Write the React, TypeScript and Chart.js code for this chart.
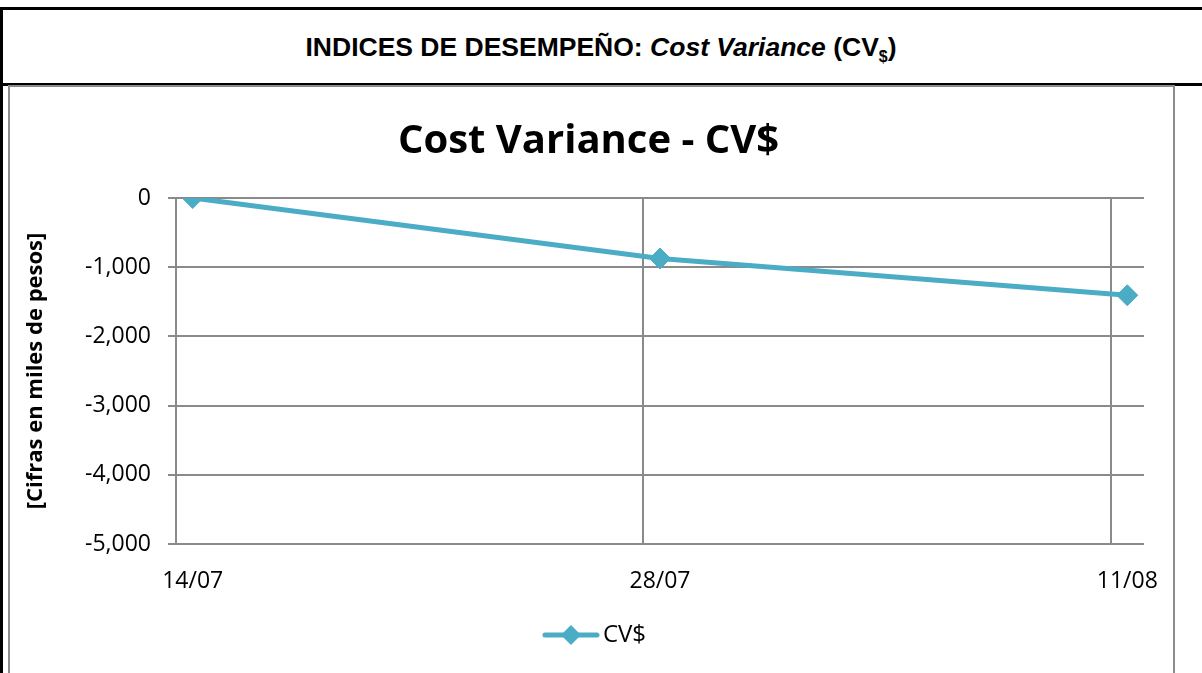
import React, { useEffect, useRef } from "react";
import { Chart, registerables } from "chart.js";

Chart.register(...registerables);

// ---- data ----
const categories = ["14/07", "28/07", "11/08"];
const dayOffsets = [0, 14, 28];
const cvValues = [0, -874, -1406];
const yTicks = [0, -1000, -2000, -3000, -4000, -5000];
const seriesName = "CV$";
const chartTitle = "Cost Variance - CV$";
const yAxisTitle = "[Cifras en miles de pesos]";

const LINE_COLOR = "#4BACC6";
const GRID_COLOR = "#8a8a8a";
const FONT = "'Open Sans', Lato, sans-serif";

function makeLegendIcon(): HTMLCanvasElement {
  // 78px wide canvas, marker drawn in its right-most 58px
  const c = document.createElement("canvas");
  c.width = 78;
  c.height = 22;
  const ctx = c.getContext("2d")!;
  const a = 20;
  ctx.strokeStyle = LINE_COLOR;
  ctx.lineWidth = 5;
  ctx.lineCap = "round";
  ctx.beginPath();
  ctx.moveTo(a + 3, 11);
  ctx.lineTo(a + 55, 11);
  ctx.stroke();
  ctx.fillStyle = LINE_COLOR;
  ctx.beginPath();
  ctx.moveTo(a + 29, 1);
  ctx.lineTo(a + 39, 11);
  ctx.lineTo(a + 29, 21);
  ctx.lineTo(a + 19, 11);
  ctx.closePath();
  ctx.fill();
  return c;
}

export default function App() {
  const canvasRef = useRef<HTMLCanvasElement>(null);

  useEffect(() => {
    document.body.style.margin = "0";
    const canvas = canvasRef.current;
    if (!canvas) return;
    const icon = makeLegendIcon();
    const xMin = dayOffsets[0] - 0.5;
    const xMax = dayOffsets[dayOffsets.length - 1] + 0.5;

    const chart = new Chart(canvas, {
      type: "line",
      data: {
        datasets: [
          {
            label: seriesName,
            data: dayOffsets.map((d, i) => ({ x: d, y: cvValues[i] })),
            borderColor: LINE_COLOR,
            backgroundColor: LINE_COLOR,
            borderWidth: 5,
            pointStyle: "rectRot",
            pointRadius: 10.5,
            pointBorderWidth: 1,
            pointBackgroundColor: LINE_COLOR,
            pointBorderColor: LINE_COLOR,
            tension: 0,
            fill: false,
          },
        ],
      },
      options: {
        animation: false,
        responsive: false,
        maintainAspectRatio: false,
        layout: { padding: { left: 23, right: 29, top: 0, bottom: 30 } },
        plugins: {
          title: {
            display: true,
            text: chartTitle,
            color: "#000",
            font: { family: FONT, size: 40, weight: "bold" },
            padding: { top: 31, bottom: 32 },
          },
          legend: {
            position: "bottom",
            labels: {
              usePointStyle: true,
              pointStyle: icon as any,
              pointStyleWidth: 60,
              color: "#000",
              font: { family: FONT, size: 24 },
              padding: 10,
            },
          },
          tooltip: { enabled: false },
        },
        scales: {
          x: {
            type: "linear",
            position: "bottom",
            min: xMin,
            max: xMax,
            afterBuildTicks: (s: any) => {
              s.ticks = dayOffsets.map((v) => ({ value: v }));
            },
            afterFit: (s: any) => {
              s.height = 69;
              s.paddingLeft = 0;
              s.paddingRight = 0;
            },
            ticks: {
              callback: (_v: any, i: number) => categories[i],
              color: "#000",
              font: { family: FONT, size: 23 },
              padding: 3,
              maxRotation: 0,
              autoSkip: false,
            },
            grid: { display: false, drawTicks: true, tickLength: 21 },
            border: { display: false },
          },
          xg: {
            type: "linear",
            position: "top",
            min: xMin,
            max: xMax,
            afterBuildTicks: (s: any) => {
              s.ticks = dayOffsets.map((v) => ({ value: v - 0.5 }));
            },
            afterFit: (s: any) => {
              s.paddingLeft = 0;
              s.paddingRight = 0;
            },
            ticks: { display: false },
            grid: { color: GRID_COLOR, lineWidth: 2, drawTicks: false },
            border: { display: false },
          },
          y: {
            type: "linear",
            min: yTicks[yTicks.length - 1],
            max: yTicks[0],
            afterBuildTicks: (s: any) => {
              s.ticks = yTicks.map((v) => ({ value: v }));
            },
            afterFit: (s: any) => {
              s.width = 143;
            },
            ticks: {
              callback: (v: any) => Number(v).toLocaleString("en-US"),
              color: "#000",
              font: { family: FONT, size: 23 },
              padding: 17,
            },
            grid: { color: GRID_COLOR, lineWidth: 2, tickLength: 8 },
            border: { display: true, color: GRID_COLOR, width: 2 },
            title: {
              display: true,
              text: yAxisTitle,
              color: "#000",
              font: { family: FONT, size: 22, weight: "bold" },
              padding: { top: -10, bottom: 0 },
            },
          },
        },
      },
    });
    return () => chart.destroy();
  }, []);

  return (
    <div
      style={{
        position: "relative",
        width: 1202,
        height: 673,
        overflow: "hidden",
        background: "#fff",
      }}
    >
      {/* header box */}
      <div
        style={{
          position: "absolute",
          left: 0,
          top: 7,
          width: 1202,
          height: 73,
          borderTop: "3px solid #000",
          borderBottom: "3px solid #000",
          display: "flex",
          alignItems: "center",
          justifyContent: "center",
          fontFamily: "'Liberation Sans', Arial, sans-serif",
          fontWeight: "bold",
          fontSize: 26.5,
          color: "#000",
          boxSizing: "content-box",
        }}
      >
        <span style={{ position: "relative", top: 3 }}>
          INDICES DE DESEMPEÑO: <i>Cost Variance</i> (CV
          <sub style={{ fontSize: "0.6em" }}>$</sub>)
        </span>
      </div>
      {/* left black rule */}
      <div
        style={{
          position: "absolute",
          left: 0,
          top: 7,
          width: 3,
          height: 700,
          background: "#000",
        }}
      />
      {/* chart box */}
      <div
        style={{
          position: "absolute",
          left: 8,
          top: 85,
          width: 1163,
          height: 620,
          border: "2px solid #8c8c8c",
          background: "#fff",
        }}
      >
        <canvas
          ref={canvasRef}
          width={1163}
          height={600}
          style={{ display: "block", width: 1163, height: 600 }}
        />
      </div>
    </div>
  );
}
